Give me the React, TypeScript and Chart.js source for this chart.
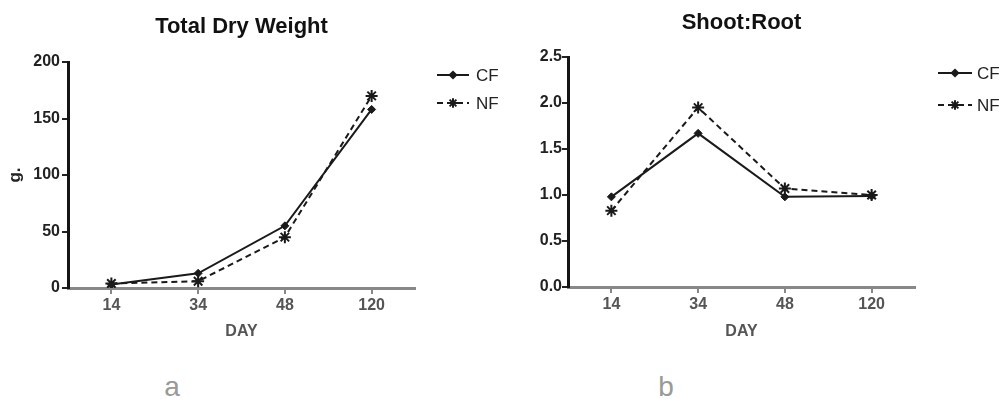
import React, { useEffect, useRef } from 'react';
import { Chart, registerables } from 'chart.js';
import { drawPoint } from 'chart.js/helpers';

Chart.register(...registerables);

const days = ['14', '34', '48', '120'];
const dryCF = [3, 13, 55, 158];
const dryNF = [4, 6, 45, 170];
const srCF = [0.98, 1.67, 0.98, 0.99];
const srNF = [0.83, 1.95, 1.07, 1.0];
const dryTicks = [0, 50, 100, 150, 200];
const srTicks = [0, 0.5, 1.0, 1.5, 2.0, 2.5];
const seriesNames = ['CF', 'NF'];

const FONT = "'Liberation Sans', Arial, sans-serif";

const legendPlugin = {
  id: 'lineLegend',
  afterDraw(chart: any, _args: any, opts: any) {
    const ctx = chart.ctx;
    ctx.save();
    chart.data.datasets.forEach((ds: any, i: number) => {
      const y = opts.ys[i];
      ctx.strokeStyle = ds.borderColor;
      ctx.fillStyle = ds.borderColor;
      ctx.lineWidth = 2;
      ctx.setLineDash(ds.borderDash || []);
      ctx.beginPath();
      ctx.moveTo(opts.x1, y);
      ctx.lineTo(opts.x2, y);
      ctx.stroke();
      ctx.setLineDash([]);
      drawPoint(ctx, { pointStyle: ds.pointStyle, radius: ds.pointRadius * 0.8, borderWidth: ds.pointBorderWidth, rotation: 0 }, (opts.x1 + opts.x2) / 2, y);
      ctx.fillStyle = '#222';
      ctx.font = `17px ${FONT}`;
      ctx.textAlign = 'left';
      ctx.textBaseline = 'middle';
      ctx.fillText(ds.label, opts.textX, y + 1);
    });
    ctx.restore();
  },
};

function makeConfig(p: any): any {
  return {
    type: 'line',
    data: {
      labels: days,
      datasets: [
        {
          label: seriesNames[0],
          data: p.cf,
          borderColor: '#1a1a1a',
          backgroundColor: '#1a1a1a',
          borderWidth: 2,
          pointStyle: 'rectRot',
          pointRadius: 4,
          pointBorderWidth: 1,
          tension: 0,
        },
        {
          label: seriesNames[1],
          data: p.nf,
          borderColor: '#1a1a1a',
          backgroundColor: '#1a1a1a',
          borderWidth: 2,
          borderDash: [6, 4],
          pointStyle: 'star',
          pointRadius: 6,
          pointBorderWidth: 2,
          tension: 0,
        },
      ],
    },
    options: {
      responsive: false,
      animation: false,
      layout: { padding: { left: 0, right: p.padRight, top: 0, bottom: 0 } },
      plugins: {
        legend: { display: false },
        tooltip: { enabled: false },
        title: {
          display: true,
          fullSize: false,
          text: p.title,
          color: '#111',
          font: { family: FONT, size: 22, weight: 'bold' },
          padding: { top: p.titleTop, bottom: p.titleBottom },
        },
        lineLegend: p.legend,
      },
      scales: {
        x: {
          type: 'category',
          offset: true,
          afterFit: (s: any) => { s.height = p.xHeight; },
          grid: { drawOnChartArea: false, drawTicks: true, tickLength: 6, color: '#888', lineWidth: 2 },
          border: { display: true, color: '#888', width: 3 },
          ticks: { color: '#555', font: { family: FONT, size: 16, weight: 'bold' }, padding: 2 },
          title: {
            display: true,
            text: 'DAY',
            color: '#555',
            font: { family: FONT, size: 16, weight: 'bold' },
            padding: { top: 4, bottom: 3.4 },
          },
        },
        y: {
          min: p.ticks[0],
          max: p.ticks[p.ticks.length - 1],
          afterFit: (s: any) => { s.width = 68; },
          afterBuildTicks: (s: any) => { s.ticks = p.ticks.map((v: number) => ({ value: v })); },
          grid: { drawOnChartArea: false, drawTicks: true, tickLength: 6, color: '#222', lineWidth: 2 },
          border: { display: true, color: '#151515', width: 3 },
          ticks: {
            color: '#222',
            font: { family: FONT, size: 16, weight: 'bold' },
            padding: p.tickPad,
            callback: (v: any) => p.fmt(Number(v)),
          },
          title: p.yTitle
            ? {
                display: true,
                text: p.yTitle,
                color: '#222',
                font: { family: FONT, size: 17, weight: 'bold' },
                padding: { top: 5, bottom: 0 },
              }
            : { display: false },
        },
      },
    },
    plugins: [legendPlugin],
  };
}

function ChartBox(props: { config: any; width: number; height: number; left: number }) {
  const ref = useRef<HTMLCanvasElement | null>(null);
  useEffect(() => {
    if (!ref.current) return;
    const chart = new Chart(ref.current, props.config);
    return () => chart.destroy();
  }, []);
  return (
    <canvas
      ref={ref}
      width={props.width}
      height={props.height}
      style={{ position: 'absolute', left: props.left, top: 0, width: props.width, height: props.height }}
    />
  );
}

const leftConfig = makeConfig({
  cf: dryCF,
  nf: dryNF,
  ticks: dryTicks,
  fmt: (v: number) => String(v),
  title: 'Total Dry Weight',
  titleTop: 13.8,
  titleBottom: 21.8,
  padRight: 85,
  xHeight: 57,
  tickPad: 2,
  yTitle: 'g.',
  legend: { x1: 437, x2: 469, textX: 476, ys: [75, 103] },
});

const rightConfig = makeConfig({
  cf: srCF,
  nf: srNF,
  ticks: srTicks,
  fmt: (v: number) => v.toFixed(1),
  title: 'Shoot:Root',
  titleTop: 9.8,
  titleBottom: 20.8,
  padRight: 88,
  xHeight: 58,
  tickPad: 0,
  yTitle: null,
  legend: { x1: 438, x2: 472, textX: 477, ys: [73, 105] },
});

const letterStyle: any = {
  position: 'absolute',
  top: 373,
  fontFamily: FONT,
  fontSize: 28,
  lineHeight: 1,
  color: '#999',
  transform: 'translateX(-50%)',
};

export default function App() {
  return (
    <div style={{ position: 'absolute', left: 0, top: 0, width: 1003, height: 399, background: '#fff', overflow: 'hidden' }}>
      <ChartBox config={leftConfig} width={500} height={345} left={0} />
      <ChartBox config={rightConfig} width={503} height={345} left={500} />
      <div style={{ ...letterStyle, left: 172 }}>a</div>
      <div style={{ ...letterStyle, left: 666 }}>b</div>
    </div>
  );
}
